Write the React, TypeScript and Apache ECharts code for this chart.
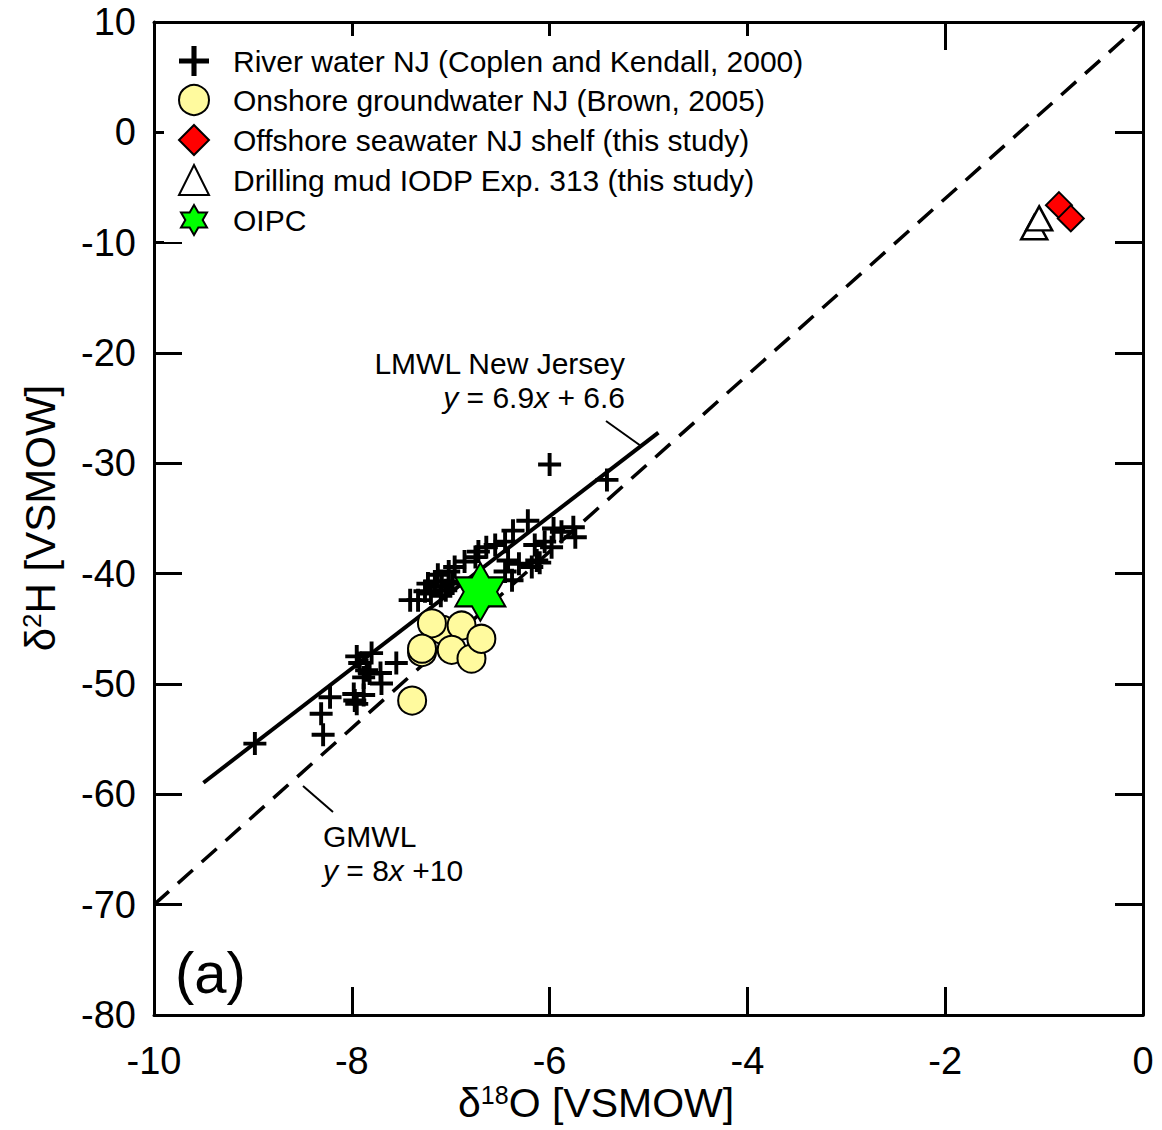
import React, { useEffect, useRef } from "react";
import * as echarts from "echarts";

// δ18O / δ2H pairs, ‰ VSMOW
const riverWater: [number, number][] = [
  [-6.0, -30.1], [-5.42, -31.5], [-6.22, -35.2], [-6.37, -36.1], [-5.96, -35.9],
  [-5.88, -36.2], [-5.76, -35.8], [-5.74, -36.7], [-6.05, -37.1], [-6.15, -37.4],
  [-5.98, -37.6], [-6.45, -37.1], [-6.55, -37.4], [-6.64, -37.6], [-6.42, -38.8],
  [-6.31, -39.1], [-6.45, -39.8], [-6.13, -38.8], [-6.18, -39.4], [-6.1, -39.0],
  [-6.72, -38.0], [-6.75, -38.5], [-6.86, -38.9], [-6.96, -39.4], [-7.02, -39.8],
  [-7.13, -40.1], [-7.16, -40.7], [-7.23, -40.9], [-7.26, -41.6], [-7.33, -42.4],
  [-7.09, -41.2], [-7.02, -40.7], [-6.38, -40.6], [-7.41, -42.4], [-7.2, -41.8],
  [-7.1, -42.0], [-7.05, -41.5], [-6.98, -40.9],
  [-8.98, -55.4], [-8.29, -54.6], [-8.31, -52.7], [-8.22, -51.2], [-7.98, -50.9],
  [-7.95, -51.8], [-7.97, -51.5], [-7.92, -48.1], [-7.95, -47.5], [-7.8, -47.2],
  [-7.85, -48.75], [-7.88, -49.4], [-7.71, -49.0], [-7.7, -49.96], [-7.55, -48.1],
  [-7.88, -51.0], [-7.82, -49.05],
];

const onshoreGroundwater: [number, number][] = [
  [-7.08, -45.1], [-7.19, -44.5], [-7.29, -47.1], [-7.29, -46.8], [-6.89, -44.7],
  [-6.99, -46.9], [-6.79, -47.7], [-6.69, -45.9], [-7.39, -51.5],
];

const offshoreSeawater: [number, number][] = [
  [-0.85, -6.6], [-0.73, -7.8],
];

const drillingMud: [number, number][] = [
  [-1.1, -8.6], [-1.05, -7.8],
];

const oipc: [number, number][] = [[-6.7, -41.65]];

// Meteoric water lines: slope, intercept, δ18O range
const lmwl = { slope: 6.9, intercept: 6.6, from: -9.5, to: -4.9 };
const gmwl = { slope: 8, intercept: 10, from: -10, to: 0 };

const xTicks = { min: -10, max: 0, interval: 2 };
const yTicks = { min: -80, max: 10, interval: 10 };

const seriesNames = [
  "River water NJ (Coplen and Kendall, 2000)",
  "Onshore groundwater NJ (Brown, 2005)",
  "Offshore seawater NJ shelf (this study)",
  "Drilling mud IODP Exp. 313 (this study)",
  "OIPC",
];

const FONT = "'Liberation Sans', Arial, Helvetica, sans-serif";

const PLUS =
  "path://M41.5,0H58.5V41.5H100V58.5H58.5V100H41.5V58.5H0V41.5H41.5Z";
const HEXAGRAM =
  "path://M50,0L64.43,25L93.3,25L78.87,50L93.3,75L64.43,75L50,100L35.57,75L6.7,75L21.13,50L6.7,25L35.57,25Z";

const linePoints = (l: { slope: number; intercept: number; from: number; to: number }) => [
  [l.from, l.slope * l.from + l.intercept],
  [l.to, l.slope * l.to + l.intercept],
];

const axisCommon = {
  axisLine: { show: true, onZero: false, lineStyle: { color: "#000", width: 3 } },
  axisTick: { show: true, inside: true, length: 28, lineStyle: { color: "#000", width: 3 } },
  splitLine: { show: false },
};

export default function App() {
  const ref = useRef<HTMLDivElement>(null);

  useEffect(() => {
    document.body.style.margin = "0";
    const chart = echarts.init(ref.current!, null, { renderer: "svg" });

    const solid = (color: string, extra: any = {}) => ({ color, opacity: 1, ...extra });

    const option: any = {
      animation: false,
      backgroundColor: "#fff",
      grid: { left: 154, right: 19, top: 22, bottom: 115 },
      xAxis: [
        {
          type: "value",
          position: "bottom",
          ...xTicks,
          ...axisCommon,
          axisLabel: { color: "#000", fontSize: 38, fontFamily: FONT, margin: 27 },
        },
        {
          type: "value",
          position: "top",
          ...xTicks,
          ...axisCommon,
          axisLabel: { show: false },
        },
      ],
      yAxis: [
        {
          type: "value",
          position: "left",
          ...yTicks,
          ...axisCommon,
          axisLabel: { color: "#000", fontSize: 38, fontFamily: FONT, margin: 18 },
        },
        {
          type: "value",
          position: "right",
          ...yTicks,
          ...axisCommon,
          axisLabel: { show: false },
        },
      ],
      legend: {
        orient: "vertical",
        left: 164,
        top: 36,
        padding: [10, 12, 6, 14],
        backgroundColor: "#fff",
        itemWidth: 30,
        itemHeight: 30,
        itemGap: 8,
        textStyle: {
          color: "#000",
          fontSize: 30,
          lineHeight: 30,
          fontFamily: FONT,
          padding: [0, 0, 0, 19],
        },
        data: seriesNames,
      },
      series: [
        {
          type: "line",
          data: linePoints(gmwl),
          symbol: "none",
          lineStyle: { color: "#000", width: 3.5, type: [20, 12] },
          z: 1,
        },
        {
          type: "line",
          data: linePoints(lmwl),
          symbol: "none",
          lineStyle: { color: "#000", width: 4 },
          z: 1,
        },
        {
          name: seriesNames[0],
          type: "scatter",
          data: riverWater,
          symbol: PLUS,
          symbolSize: 23,
          itemStyle: solid("#000"),
          z: 2,
        },
        {
          name: seriesNames[1],
          type: "scatter",
          data: onshoreGroundwater,
          symbol: "circle",
          symbolSize: 28,
          itemStyle: solid("#fffa9e", { borderColor: "#000", borderWidth: 2 }),
          z: 3,
        },
        {
          name: seriesNames[2],
          type: "scatter",
          data: offshoreSeawater,
          symbol: "diamond",
          symbolSize: 26,
          itemStyle: solid("#ff0000", { borderColor: "#000", borderWidth: 2 }),
          z: 3,
        },
        {
          name: seriesNames[3],
          type: "scatter",
          data: drillingMud,
          symbol: "triangle",
          symbolSize: [26, 24],
          itemStyle: solid("#fff", { borderColor: "#000", borderWidth: 2.5 }),
          z: 3,
        },
        {
          name: seriesNames[4],
          type: "scatter",
          data: oipc,
          symbol: HEXAGRAM,
          symbolSize: [50, 58],
          itemStyle: solid("#00ff00", { borderColor: "#000", borderWidth: 2 }),
          z: 4,
        },
      ],
      graphic: [
        // line annotations
        {
          type: "line",
          shape: { x1: 606, y1: 421, x2: 641, y2: 446 },
          style: { stroke: "#000", lineWidth: 2 },
          z: 10,
        },
        {
          type: "line",
          shape: { x1: 303, y1: 786, x2: 333, y2: 812 },
          style: { stroke: "#000", lineWidth: 2 },
          z: 10,
        },
        {
          type: "text",
          x: 625,
          y: 363,
          style: {
            text: "LMWL New Jersey",
            fill: "#000",
            font: `30px ${FONT}`,
            align: "right",
            verticalAlign: "middle",
          },
          z: 10,
        },
        {
          type: "text",
          x: 625,
          y: 397,
          style: {
            text: "{i|y} = 6.9{i|x} + 6.6",
            fill: "#000",
            fontSize: 30,
            fontFamily: FONT,
            align: "right",
            verticalAlign: "middle",
            rich: { i: { fontStyle: "italic", fontSize: 30, fontFamily: FONT } },
          },
          z: 10,
        },
        {
          type: "text",
          x: 323,
          y: 836,
          style: {
            text: "GMWL",
            fill: "#000",
            font: `30px ${FONT}`,
            align: "left",
            verticalAlign: "middle",
          },
          z: 10,
        },
        {
          type: "text",
          x: 323,
          y: 870,
          style: {
            text: "{i|y} = 8{i|x} +10",
            fill: "#000",
            fontSize: 30,
            fontFamily: FONT,
            align: "left",
            verticalAlign: "middle",
            rich: { i: { fontStyle: "italic", fontSize: 30, fontFamily: FONT } },
          },
          z: 10,
        },
        {
          type: "text",
          x: 175,
          y: 972,
          style: {
            text: "(a)",
            fill: "#000",
            font: `58px ${FONT}`,
            align: "left",
            verticalAlign: "middle",
          },
          z: 10,
        },
        // axis titles
        {
          type: "text",
          x: 458,
          y: 1103,
          style: {
            text: "δ{s|18}O [VSMOW]",
            fill: "#000",
            fontSize: 41,
            fontFamily: FONT,
            align: "left",
            verticalAlign: "middle",
            rich: { s: { fontSize: 25, fontFamily: FONT, verticalAlign: "top", padding: [0, 0, 15, 0] } },
          },
        },
        {
          type: "text",
          x: 40,
          y: 518,
          rotation: Math.PI / 2,
          style: {
            text: "δ{s|2}H [VSMOW]",
            fill: "#000",
            fontSize: 42,
            fontFamily: FONT,
            align: "center",
            verticalAlign: "middle",
            rich: { s: { fontSize: 26, fontFamily: FONT, verticalAlign: "top", padding: [0, 0, 15, 0] } },
          },
        },
      ],
    };

    chart.setOption(option);
    return () => chart.dispose();
  }, []);

  return <div ref={ref} style={{ width: 1162, height: 1130 }} />;
}
